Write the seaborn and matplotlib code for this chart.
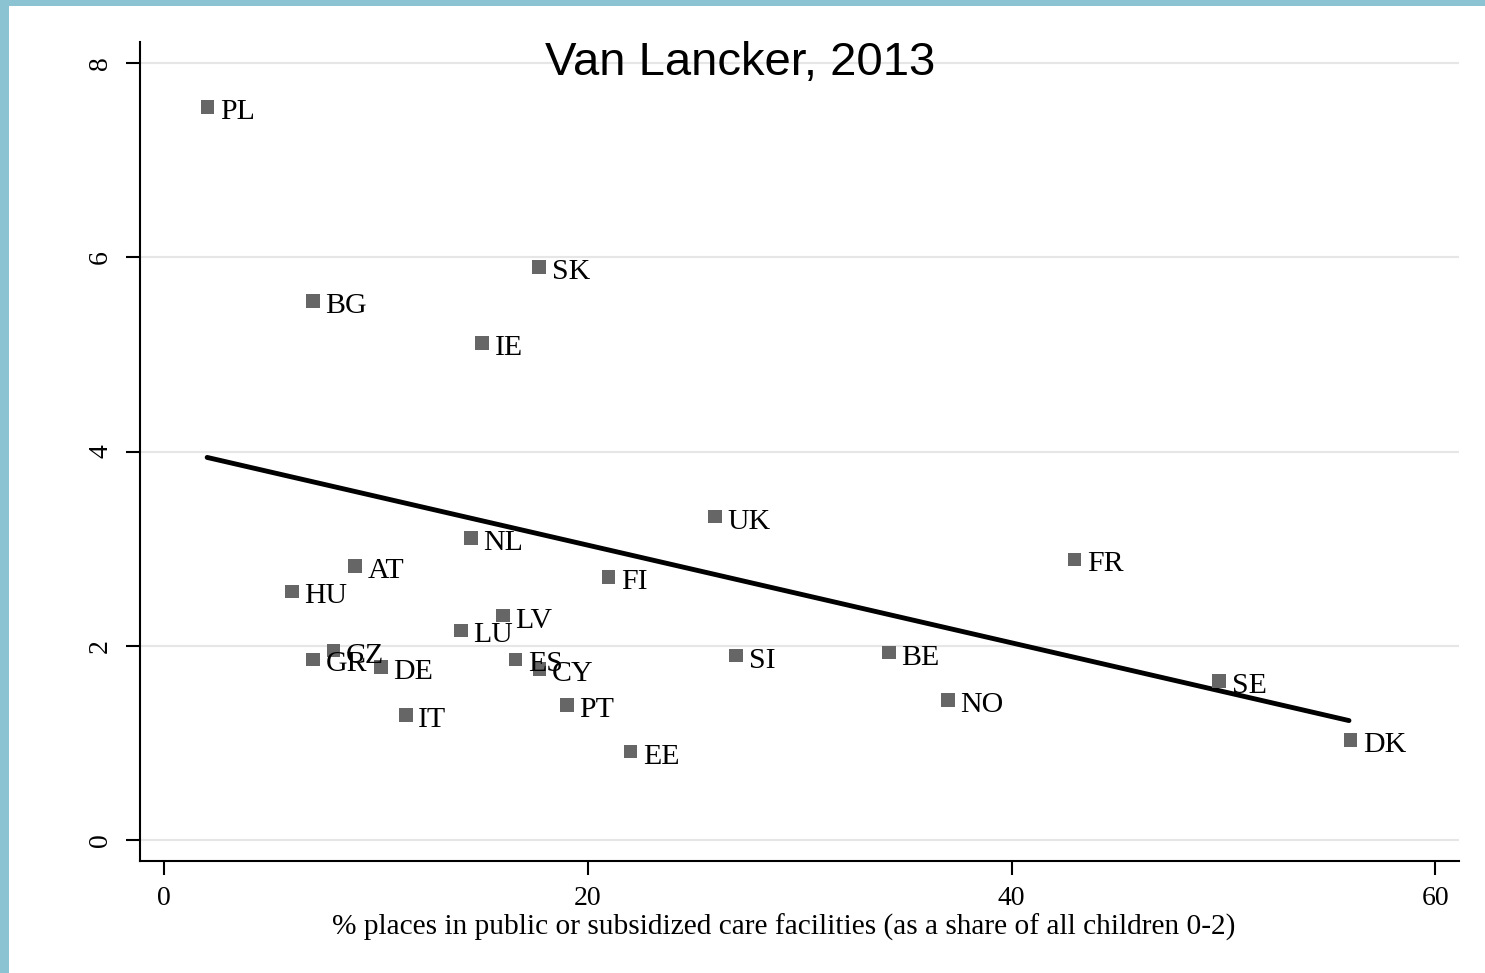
import matplotlib
matplotlib.use("Agg")
import matplotlib.pyplot as plt
from matplotlib.patches import Rectangle
import pandas as pd
import seaborn as sns

# values
countries = ["PL", "SK", "BG", "IE", "UK", "NL", "AT", "FR", "FI", "HU", "LV", "LU", "CZ",
             "GR", "DE", "ES", "CY", "SI", "BE", "NO", "SE", "DK", "IT", "PT", "EE"]
childcare = [2.03, 17.69, 7.02, 15.00, 26.01, 14.48, 8.99, 42.98, 20.96, 6.03, 15.98, 14.01, 7.98,
             7.01, 10.22, 16.57, 17.71, 26.99, 34.20, 37.00, 49.80, 56.01, 11.40, 19.00, 22.00]
outcome = [7.55, 5.90, 5.55, 5.12, 3.33, 3.11, 2.82, 2.89, 2.71, 2.56, 2.31, 2.16, 1.95,
           1.86, 1.78, 1.86, 1.76, 1.90, 1.93, 1.44, 1.64, 1.03, 1.29, 1.39, 0.91]
fit_x = [2.02, 55.93]
fit_y = [3.94, 1.23]

x_ticks = [0, 20, 40, 60]
y_ticks = [0, 2, 4, 6, 8]
title = "Van Lancker, 2013"
x_label = "% places in public or subsidized care facilities (as a share of all children 0-2)"

df = pd.DataFrame({"country": countries, "childcare": childcare, "outcome": outcome})
fit = pd.DataFrame({"x": fit_x, "y": fit_y})

sns.set_style("white")
plt.rcParams['font.family'] = ['Liberation Serif', 'DejaVu Serif']
plt.rcParams['text.color'] = 'black'

W, H = 1485, 973
fig = plt.figure(figsize=(W / 100, H / 100), dpi=100, facecolor='#8BC3D3')
# white slide area, leaving the blue strip at top and left
fig.add_artist(Rectangle((9 / W, 0), 1, 1 - 6 / H, transform=fig.transFigure,
                         facecolor='white', edgecolor='none', zorder=-5))

ax = fig.add_axes([140 / W, 1 - 861 / H, (1458.7 - 140) / W, (861 - 42.3) / H])

sns.lineplot(data=fit, x="x", y="y", color='black', linewidth=3.5, ax=ax, zorder=2)
sns.scatterplot(data=df, x="childcare", y="outcome", marker='s', s=95, color='#666666',
                edgecolor='none', linewidth=0, ax=ax, zorder=3)

for c, xv, yv in zip(countries, childcare, outcome):
    ax.annotate(c, (xv, yv), xytext=(12.5, -12), textcoords='offset pixels',
                fontsize=21.5, color='black', ha='left', va='baseline', zorder=4)

ax.set_xlim(-1.15, 61.11)
ax.set_ylim(-0.216, 8.215)
ax.set_xticks(x_ticks)
ax.set_yticks(y_ticks)

for side in ['top', 'right']:
    ax.spines[side].set_visible(False)
for side in ['left', 'bottom']:
    ax.spines[side].set_linewidth(1.5)
    ax.spines[side].set_color('black')

ax.yaxis.grid(True, color='#E6E6E6', linewidth=1.5)
ax.xaxis.grid(False)
ax.set_axisbelow(True)

ax.tick_params(axis='both', which='major', length=10.3, width=1.5, color='black',
               labelsize=20, labelcolor='black', left=True, bottom=True)
ax.tick_params(axis='x', pad=8)
ax.tick_params(axis='y', pad=9, labelrotation=90)
for lab in ax.get_yticklabels():
    lab.set_va('center')

ax.set_ylabel("")
ax.set_xlabel(x_label, fontsize=21.2, color='black')
ax.xaxis.label.set_va('baseline')
ax.xaxis.set_label_coords((783.5 - 140) / (1458.7 - 140), (861 - 935) / (861 - 42.3))

fig.text(740 / W, 1 - 75 / H, title, ha='center', va='baseline', fontsize=34,
         color='black', family='Liberation Sans')

fig.savefig('out.png', dpi=100, facecolor=fig.get_facecolor())
